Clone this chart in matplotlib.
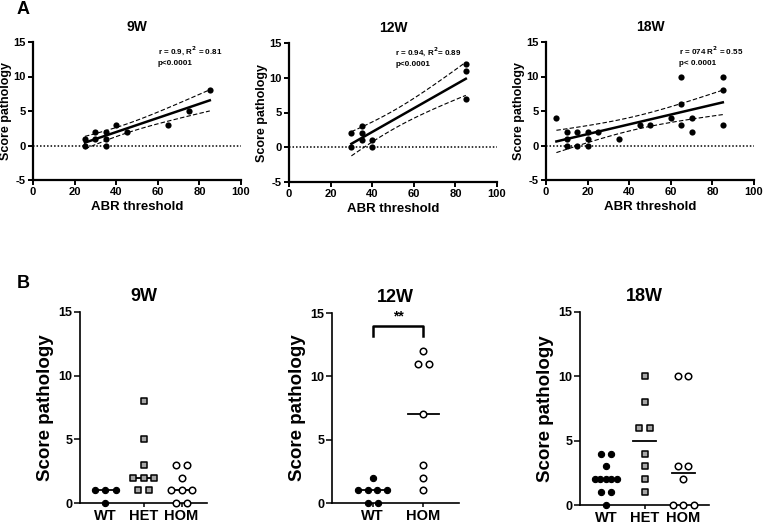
import math
import numpy as np
import matplotlib
matplotlib.use("Agg")
import matplotlib.pyplot as plt

plt.rcParams['font.family'] = ['Liberation Sans', 'DejaVu Sans']
plt.rcParams['font.weight'] = 'bold'
plt.rcParams['axes.unicode_minus'] = False

# ---------------- Panel A data ----------------
a_titles = ["9W", "12W", "18W"]
abr_9w = [25, 25, 30, 30, 35, 35, 35, 40, 45, 65, 75, 85]
score_9w = [1, 0, 2, 1, 2, 1, 0, 3, 2, 3, 5, 8]
abr_12w = [30, 30, 35, 35, 35, 40, 40, 85, 85, 85]
score_12w = [2, 0, 3, 2, 1, 1, 0, 12, 11, 7]
abr_18w = [5, 10, 10, 10, 15, 15, 20, 20, 20, 25, 35, 45, 50, 60, 65, 65, 65, 70, 70, 85, 85, 85]
score_18w = [4, 2, 1, 0, 2, 0, 2, 1, 0, 2, 1, 3, 3, 4, 10, 6, 3, 4, 2, 10, 8, 3]
a_stats = ["r = 0.9, R$^{2}$ = 0.81\np<0.0001",
           "r = 0.94, R$^{2}$= 0.89\np<0.0001",
           "r = 074 R$^{2}$ = 0.55\np< 0.0001"]
a_stat_x = [60, 51, 64]

# ---------------- Panel B data ----------------
b_titles = ["9W", "12W", "18W"]
b_groups_9w = ["WT", "HET", "HOM"]
b_9w_wt = [1, 1, 1, 0]
b_9w_het = [8, 5, 3, 2, 2, 2, 1, 1]
b_9w_hom = [3, 3, 2, 1, 1, 1, 0, 0]
b_groups_12w = ["WT", "HOM"]
b_12w_wt = [2, 1, 1, 1, 1, 0, 0]
b_12w_hom = [12, 11, 11, 7, 3, 2, 1]
b_groups_18w = ["WT", "HET", "HOM"]
b_18w_wt = [4, 4, 3, 2, 2, 2, 2, 2, 1, 1, 0]
b_18w_het = [10, 8, 6, 6, 4, 3, 2, 1]
b_18w_hom = [10, 10, 3, 3, 2, 0, 0, 0]


def t_quantile(p, df):
    c = math.gamma((df + 1) / 2) / (math.sqrt(df * math.pi) * math.gamma(df / 2))
    def cdf(t):
        xs = np.linspace(0, t, 2001)
        ys = c * (1 + xs ** 2 / df) ** (-(df + 1) / 2)
        return 0.5 + np.trapezoid(ys, xs)
    lo, hi = 0.0, 20.0
    for _ in range(60):
        mid = (lo + hi) / 2
        if cdf(mid) < p:
            lo = mid
        else:
            hi = mid
    return (lo + hi) / 2


fig = plt.figure(figsize=(7.63, 5.26), dpi=100)
W, H = 763, 526


def ax_at(l, t, r, b):
    return fig.add_axes([l / W, 1 - b / H, (r - l) / W, (b - t) / H])


a_boxes = [(33, 42, 241, 180), (289, 43, 497, 182), (546, 42, 754, 180)]
a_data = [(abr_9w, score_9w), (abr_12w, score_12w), (abr_18w, score_18w)]

for i in range(3):
    ax = ax_at(*a_boxes[i])
    x = np.array(a_data[i][0], float)
    y = np.array(a_data[i][1], float)
    n = len(x)
    slope, icpt = np.polyfit(x, y, 1)
    xs = np.linspace(x.min(), x.max(), 100)
    yh = icpt + slope * xs
    resid = y - (icpt + slope * x)
    s = math.sqrt((resid ** 2).sum() / (n - 2))
    sxx = ((x - x.mean()) ** 2).sum()
    tq = t_quantile(0.975, n - 2)
    half = tq * s * np.sqrt(1 / n + (xs - x.mean()) ** 2 / sxx)
    ax.axhline(0, color='black', lw=1.1, ls=(0, (1, 1.3)), zorder=1)
    ax.plot(xs, yh, color='black', lw=1.8, zorder=3)
    ax.plot(xs, yh + half, color='black', lw=0.8, ls=(0, (4, 2)), zorder=3)
    ax.plot(xs, yh - half, color='black', lw=0.8, ls=(0, (4, 2)), zorder=3)
    ax.scatter(x, y, s=20, color='black', zorder=4, linewidths=0)
    ax.set_xlim(0, 100)
    ax.set_ylim(-5, 15)
    ax.set_xticks([0, 20, 40, 60, 80, 100])
    ax.set_yticks([-5, 0, 5, 10, 15])
    for sp in ['top', 'right']:
        ax.spines[sp].set_visible(False)
    for sp in ['left', 'bottom']:
        ax.spines[sp].set_linewidth(1.6)
    ax.tick_params(width=1.4, length=3.5, labelsize=8, pad=1.5)
    ax.set_xlabel("ABR threshold", fontsize=9.5, fontweight='bold', labelpad=3)
    ax.set_ylabel("Score pathology", fontsize=9, fontweight='bold', labelpad=1)
    ax.set_title(a_titles[i], fontsize=10, fontweight='bold', pad=8)
    ax.text(a_stat_x[i], 14.6, a_stats[i], fontsize=5.8, fontweight='bold',
            va='top', ha='left', linespacing=1.5)

fig.text(23 / W, 1 - 10 / H, "A", fontsize=13, fontweight='bold', ha='center', va='center')
fig.text(23 / W, 1 - 284 / H, "B", fontsize=13, fontweight='bold', ha='center', va='center')

b_boxes = [(80, 312, 207, 503), (332, 313, 459, 503), (580, 312, 709, 505)]
b_sets = [
    (b_groups_9w, [b_9w_wt, b_9w_het, b_9w_hom], (-0.667, 2.667), 0.27),
    (b_groups_12w, [b_12w_wt, b_12w_hom], (-0.8, 1.7), 0.2),
    (b_groups_18w, [b_18w_wt, b_18w_het, b_18w_hom], (-0.667, 2.667), 0.27),
]
styles = {
    "WT": dict(marker='o', s=20, facecolors='black', edgecolors='black', linewidths=0.8),
    "HET": dict(marker='s', s=24, facecolors='#a6a6a6', edgecolors='black', linewidths=1.1),
    "HOM": dict(marker='o', s=22, facecolors='white', edgecolors='black', linewidths=1.1),
}

for i in range(3):
    ax = ax_at(*b_boxes[i])
    groups, vals, xl, sp = b_sets[i]
    for gi, (g, v) in enumerate(zip(groups, vals)):
        v = np.array(v, float)
        xs, ys = [], []
        for u in sorted(set(v)):
            k = int((v == u).sum())
            step = sp if k == 1 else min(sp, 0.56 / (k - 1))
            for j in range(k):
                xs.append(gi + (j - (k - 1) / 2) * step)
                ys.append(u)
        ax.scatter(xs, ys, zorder=4, clip_on=False, **styles[g])
        med = np.median(v)
        ax.plot([gi - 0.3, gi + 0.3], [med, med], color='black', lw=1.3, zorder=3)
    ax.set_xlim(*xl)
    ax.set_ylim(0, 15)
    ax.set_yticks([0, 5, 10, 15])
    ax.set_xticks(range(len(groups)))
    ax.set_xticklabels(groups)
    for s_ in ['top', 'right']:
        ax.spines[s_].set_visible(False)
    for s_ in ['left', 'bottom']:
        ax.spines[s_].set_linewidth(1.2)
    ax.tick_params(axis='y', width=1.1, length=4, labelsize=9, pad=1.5)
    ax.tick_params(axis='x', width=1.1, length=3, labelsize=10.5, pad=1.5)
    ax.set_ylabel("Score pathology", fontsize=13.5, fontweight='bold', labelpad=3)
    ax.set_title(b_titles[i], fontsize=13, fontweight='bold', pad=8)
    if i == 1:
        ax.plot([0, 0, 1, 1], [13.2, 14.0, 14.0, 13.2], color='black', lw=1.8, zorder=3)
        ax.text(0.5, 14.15, "**", ha='center', va='bottom', fontsize=10, fontweight='bold')

fig.savefig("out.png", dpi=100)
